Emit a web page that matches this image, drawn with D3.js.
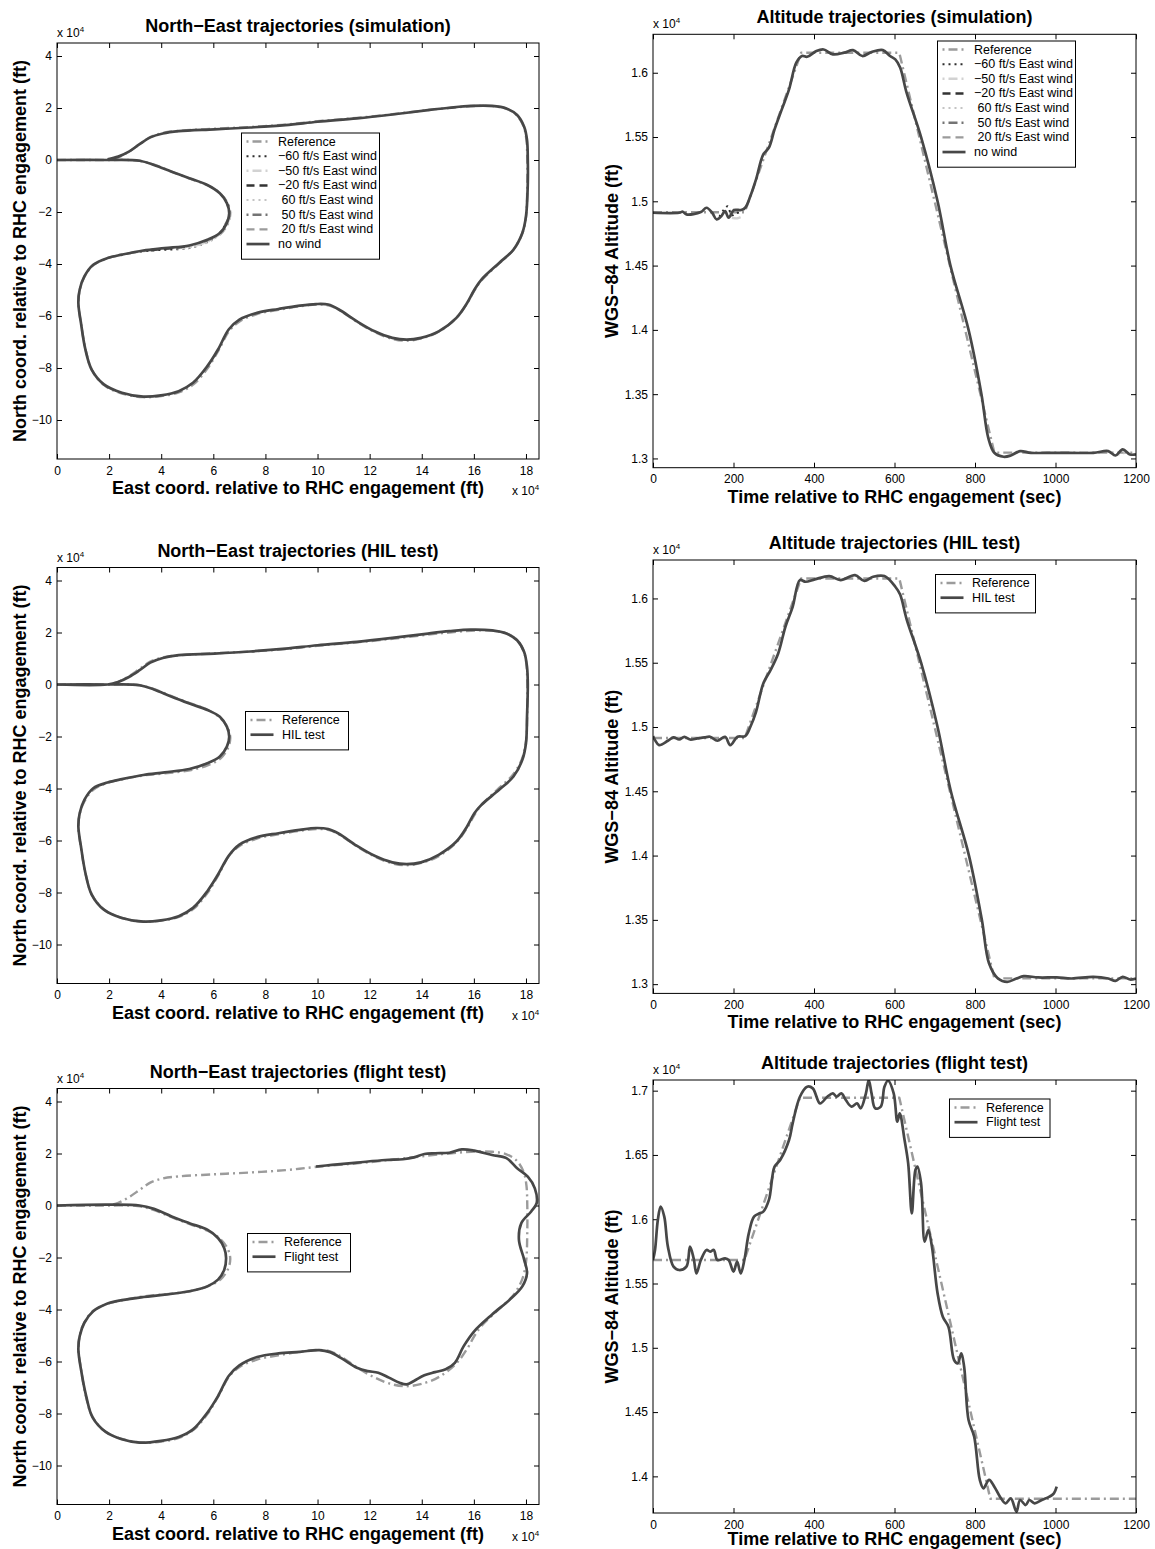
<!DOCTYPE html>
<html>
<head>
<meta charset="utf-8">
<script src="https://cdn.jsdelivr.net/npm/d3@7/dist/d3.min.js"></script>
<style>
  html, body { margin: 0; padding: 0; background: #fff; }
  svg text { font-family: "Liberation Sans", Arial, Helvetica, sans-serif; fill: #000; }
</style>
</head>
<body>
<script>
// ---------- Tick values ----------
const neTicksX = [0, 2, 4, 6, 8, 10, 12, 14, 16, 18];
const neTicksY = [-10, -8, -6, -4, -2, 0, 2, 4];
const altTicksX = [0, 200, 400, 600, 800, 1000, 1200];
const altTicksYLow = [1.3, 1.35, 1.4, 1.45, 1.5, 1.55, 1.6];
const altTicksYHigh = [1.4, 1.45, 1.5, 1.55, 1.6, 1.65, 1.7];

// ---------- North-East paths [east, north] in units of 1e4 ft ----------
const refNE = [[0,0],[1.0,0],[2.0,0],[3.1,-0.02],[3.7,-0.17],[4.4,-0.45],[5.1,-0.72],[5.8,-0.98],[6.28,-1.3],[6.56,-1.68],[6.65,-2.06],[6.56,-2.45],[6.28,-2.84],[5.8,-3.1],[5.1,-3.3],[4.1,-3.42],[3.3,-3.5],[2.5,-3.65],[1.94,-3.78],[1.39,-4.05],[1.05,-4.5],[0.87,-5.0],[0.82,-5.52],[0.92,-6.28],[1.1,-7.3],[1.35,-8.1],[1.82,-8.67],[2.5,-8.98],[3.3,-9.12],[4.0,-9.08],[4.7,-8.93],[5.25,-8.62],[5.8,-7.98],[6.2,-7.32],[6.62,-6.56],[7.05,-6.18],[7.7,-5.92],[8.5,-5.76],[9.3,-5.63],[9.95,-5.56],[10.45,-5.6],[10.85,-5.78],[11.5,-6.22],[12.2,-6.62],[12.87,-6.88],[13.42,-6.95],[14.0,-6.86],[14.65,-6.6],[15.33,-6.07],[15.75,-5.5],[16.03,-5.0],[16.3,-4.62],[16.97,-3.98],[17.5,-3.47],[17.85,-2.85],[18.0,-2.2],[18.05,-1.0],[18.05,0],[18.02,0.75],[17.92,1.26],[17.65,1.72],[17.25,1.97],[16.7,2.07],[15.9,2.07],[15.06,2.0],[14.24,1.92],[12.87,1.76],[11.51,1.62],[10.0,1.49],[8.77,1.36],[7.41,1.27],[6.04,1.2],[4.67,1.12],[4.06,1.04],[3.58,0.88],[3.17,0.6],[2.76,0.32],[2.35,0.1],[2.0,0.01]];

const noWindNE = [[0,0],[1.94,0],[3.17,-0.03],[3.72,-0.19],[4.4,-0.45],[5.08,-0.70],[5.77,-0.96],[6.25,-1.28],[6.52,-1.66],[6.61,-2.05],[6.52,-2.43],[6.25,-2.81],[5.77,-3.07],[5.08,-3.29],[4.13,-3.39],[3.31,-3.48],[2.49,-3.64],[1.94,-3.77],[1.39,-4.03],[1.05,-4.48],[0.87,-4.99],[0.82,-5.50],[0.92,-6.27],[1.09,-7.29],[1.33,-8.06],[1.80,-8.63],[2.49,-8.95],[3.31,-9.10],[3.99,-9.05],[4.67,-8.89],[5.22,-8.57],[5.77,-7.93],[6.18,-7.29],[6.59,-6.52],[7.0,-6.14],[7.68,-5.88],[8.5,-5.73],[9.32,-5.60],[9.94,-5.54],[10.41,-5.56],[10.82,-5.75],[11.5,-6.2],[12.19,-6.59],[12.87,-6.84],[13.42,-6.91],[13.97,-6.84],[14.65,-6.59],[15.33,-6.07],[15.74,-5.50],[16.02,-4.99],[16.29,-4.60],[16.97,-3.96],[17.52,-3.45],[17.86,-2.81],[18.0,-2.17],[18.07,-0.90],[18.07,0],[18.04,0.77],[17.93,1.28],[17.66,1.73],[17.25,1.98],[16.70,2.08],[15.88,2.08],[15.06,2.01],[14.24,1.92],[12.87,1.75],[11.51,1.60],[10.0,1.47],[8.77,1.34],[7.41,1.25],[6.04,1.18],[4.67,1.11],[4.06,1.02],[3.58,0.87],[3.17,0.61],[2.76,0.32],[2.35,0.13],[1.94,0.03]];

// Wind cases: stretches where they leave the no-wind track
const windM60NE = [[3.2,-3.52],[3.8,-3.47],[4.4,-3.44],[5.0,-3.40],[5.5,-3.27],[5.95,-3.06],[6.3,-2.75],[6.5,-2.4]];
const windM50NE = [[4.6,-3.40],[5.3,-3.30],[5.9,-3.08],[6.35,-2.75],[6.6,-2.3],[6.68,-2.0]];
const windM20NE = [[3.6,-3.47],[4.3,-3.40],[5.0,-3.33]];
const windP60NE = [[4.8,-3.42],[5.4,-3.30],[6.0,-3.05],[6.4,-2.6]];
const windP50NE = [[6.45,-2.5],[6.62,-2.1],[6.55,-1.7]];
const windP20NE = [[2.8,-3.58],[3.4,-3.49]];

const hilNE = [[0,0],[1.94,0],[2.35,0.10],[2.76,0.29],[3.17,0.55],[3.58,0.84],[4.06,1.02],[4.67,1.13],[6.04,1.19],[7.41,1.27],[8.77,1.38],[10.0,1.51],[11.51,1.64],[12.87,1.79],[14.24,1.96],[15.06,2.05],[15.88,2.11],[16.70,2.08],[17.25,1.96],[17.66,1.70],[17.93,1.25],[18.04,0.68],[18.07,0],[18.04,-1.24],[18.0,-2.26],[17.86,-2.90],[17.52,-3.54],[16.97,-4.05],[16.29,-4.63],[16.02,-4.95],[15.74,-5.46],[15.33,-6.04],[14.65,-6.55],[13.97,-6.84],[13.42,-6.91],[12.87,-6.84],[12.19,-6.59],[11.5,-6.2],[10.82,-5.74],[10.41,-5.56],[9.94,-5.52],[9.32,-5.59],[8.5,-5.72],[7.68,-5.87],[7.0,-6.16],[6.59,-6.59],[6.18,-7.31],[5.77,-7.95],[5.22,-8.59],[4.67,-8.91],[3.99,-9.07],[3.31,-9.12],[2.49,-8.98],[1.80,-8.66],[1.33,-8.08],[1.09,-7.25],[0.92,-6.23],[0.82,-5.46],[0.87,-4.95],[1.05,-4.44],[1.39,-3.99],[1.94,-3.77],[2.49,-3.64],[3.31,-3.48],[4.13,-3.38],[5.08,-3.25],[5.77,-3.03],[6.25,-2.77],[6.52,-2.39],[6.61,-2.01],[6.52,-1.62],[6.25,-1.24],[5.77,-0.98],[5.08,-0.73],[4.4,-0.47],[3.72,-0.19],[3.17,-0.03],[1.94,0],[0,0]];

const flightNE = [[0,0],[1.94,0.03],[3.17,0],[3.72,-0.13],[4.4,-0.42],[5.08,-0.68],[5.77,-0.93],[6.18,-1.25],[6.42,-1.64],[6.49,-2.02],[6.42,-2.47],[6.18,-2.85],[5.77,-3.11],[5.08,-3.30],[4.13,-3.43],[3.31,-3.52],[2.49,-3.64],[1.94,-3.77],[1.39,-4.07],[1.05,-4.51],[0.87,-5.03],[0.82,-5.54],[0.92,-6.30],[1.12,-7.33],[1.37,-8.16],[1.87,-8.71],[2.49,-8.99],[3.17,-9.12],[3.99,-9.05],[4.67,-8.90],[5.22,-8.61],[5.77,-7.97],[6.18,-7.33],[6.59,-6.56],[7.0,-6.15],[7.68,-5.83],[8.5,-5.69],[9.32,-5.63],[10.07,-5.56],[10.48,-5.64],[10.96,-5.90],[11.51,-6.24],[11.92,-6.37],[12.33,-6.43],[12.74,-6.62],[13.15,-6.82],[13.42,-6.88],[13.70,-6.75],[14.10,-6.53],[14.51,-6.41],[14.92,-6.30],[15.27,-6.05],[15.61,-5.41],[16.02,-4.83],[16.70,-4.19],[17.38,-3.62],[17.86,-3.11],[18.04,-2.60],[17.93,-2.08],[17.73,-1.32],[17.82,-0.68],[18.2,-0.23],[18.41,0.09],[18.34,0.66],[18.07,1.11],[17.66,1.43],[17.25,1.82],[16.70,1.94],[16.02,2.11],[15.54,2.16],[15.06,2.03],[14.51,2.01],[14.10,1.98],[13.70,1.85],[13.28,1.78],[12.60,1.75],[11.51,1.65],[10.55,1.56],[9.94,1.50]];

// ---------- Altitude [time s, altitude 1e4 ft] ----------
const refAltSim = [[0,1.4915],[228,1.4915],[368,1.6155],[612,1.6155],[848,1.3045],[1200,1.3045]];

const noWindAlt = [[0,1.4911],[65,1.4911],[74,1.4919],[83,1.4898],[119,1.4916],[133,1.495],[147,1.4911],[158,1.4859],[170,1.4885],[179,1.4924],[188,1.4872],[201,1.4932],[219,1.4932],[229,1.495],[242,1.5041],[256,1.517],[274,1.5365],[288,1.5417],[302,1.5559],[320,1.5715],[338,1.587],[356,1.6078],[370,1.613],[383,1.6124],[406,1.6169],[424,1.6181],[447,1.6143],[475,1.6156],[497,1.6176],[520,1.613],[543,1.6161],[571,1.6176],[589,1.613],[602,1.6104],[614,1.6040],[630,1.5845],[666,1.5500],[707,1.5000],[739,1.4500],[784,1.4000],[816,1.3500],[833,1.3160],[848,1.3044],[871,1.3013],[889,1.3023],[912,1.3057],[939,1.3044],[1003,1.3044],[1094,1.3044],[1131,1.3057],[1149,1.3023],[1167,1.307],[1185,1.3031],[1200,1.3031]];

const windM60Alt = [[165,1.4880],[176,1.4935],[186,1.4962],[195,1.4890],[206,1.4905],[222,1.4920]];
const windM50Alt = [[196,1.4872],[210,1.4868],[226,1.4890]];
const windP60Alt = [[1140,1.3050],[1160,1.3030],[1180,1.3060]];

const hilAlt = [[0,1.4929],[5,1.4898],[15,1.4859],[37,1.4893],[51,1.4919],[65,1.4903],[78,1.4924],[92,1.4903],[110,1.4911],[128,1.4919],[142,1.4924],[160,1.4893],[179,1.4924],[192,1.4859],[210,1.4924],[229,1.4929],[242,1.5002],[256,1.5118],[274,1.5339],[292,1.5443],[311,1.5572],[329,1.578],[347,1.5935],[365,1.6143],[379,1.613],[402,1.6148],[438,1.6174],[466,1.6143],[502,1.6181],[525,1.6137],[547,1.6169],[575,1.6174],[602,1.6091],[614,1.6030],[630,1.5840],[666,1.5500],[707,1.5000],[740,1.4500],[785,1.4000],[817,1.3500],[835,1.3160],[857,1.3044],[880,1.3018],[903,1.3044],[921,1.3062],[957,1.3052],[1003,1.3052],[1040,1.3044],[1094,1.3057],[1131,1.3044],[1149,1.3026],[1167,1.3057],[1185,1.3036],[1200,1.3044]];

const refAltFlight = [[0,1.5683],[227,1.5683],[365,1.6945],[612,1.6945],[838,1.3826],[1200,1.3826]];

const flightAlt = [[0,1.5683],[5,1.5761],[12,1.5994],[19,1.6098],[28,1.602],[37,1.5787],[51,1.5631],[65,1.5605],[83,1.5631],[92,1.5787],[101,1.5696],[108,1.5579],[119,1.5683],[133,1.5761],[142,1.5748],[151,1.5761],[160,1.5683],[179,1.5696],[188,1.5683],[200,1.5592],[209,1.567],[218,1.5579],[227,1.5683],[238,1.589],[251,1.602],[265,1.6046],[274,1.6059],[288,1.615],[302,1.6409],[316,1.6461],[338,1.6616],[347,1.6746],[365,1.6953],[383,1.7031],[397,1.7018],[415,1.6901],[433,1.6953],[447,1.6979],[456,1.6953],[468,1.6979],[479,1.6927],[493,1.6876],[507,1.6901],[516,1.6863],[529,1.6979],[536,1.7083],[543,1.6979],[552,1.6863],[566,1.6876],[575,1.7031],[584,1.7078],[598,1.6979],[607,1.6759],[613,1.6824],[625,1.6616],[634,1.6435],[643,1.6046],[652,1.6383],[657,1.6409],[666,1.6279],[675,1.5826],[684,1.5916],[693,1.5787],[707,1.5424],[720,1.5242],[734,1.5164],[748,1.4905],[757,1.4879],[766,1.4957],[773,1.4853],[784,1.4438],[798,1.4309],[812,1.3972],[821,1.3907],[835,1.3972],[848,1.392],[862,1.3842],[876,1.379],[889,1.3829],[903,1.3725],[912,1.3816],[926,1.3777],[935,1.3816],[948,1.379],[966,1.3816],[985,1.3842],[996,1.3868],[1003,1.392]];

// ---------- Line styles ----------
const styles = {
  ref:    { color: "#9b9b9b", width: 2.4, dash: "9,4,2,4", key: 13 },
  m60:    { color: "#2e2e2e", width: 2.0, dash: "2,4", key: 0 },
  m50:    { color: "#d2d2d2", width: 2.4, dash: "9,4,2,4", key: 13 },
  m20:    { color: "#333333", width: 2.4, dash: "8,5", key: 0 },
  p60:    { color: "#c4c4c4", width: 2.0, dash: "2,4", key: 0 },
  p50:    { color: "#747474", width: 2.4, dash: "9,4,2,4", key: 13 },
  p20:    { color: "#9b9b9b", width: 2.4, dash: "8,5", key: 0 },
  solid:  { color: "#474747", width: 2.7, dash: null, key: 0 }
};

const FONT = '"Liberation Sans", Arial, Helvetica, sans-serif';
const svg = d3.select("body").append("svg").attr("width", 1155).attr("height", 1549);
let clipId = 0;

function fmtTick(v) {
  return String(+v.toFixed(2)).replace("-", "\u2212");
}

function drawPanel(p) {
  const x = d3.scaleLinear().domain(p.xDomain).range([p.left, p.right]);
  const y = d3.scaleLinear().domain(p.yDomain).range([p.bottom, p.top]);
  const g = svg.append("g");
  const id = "clip" + (clipId++);
  g.append("clipPath").attr("id", id).append("rect")
    .attr("x", p.left).attr("y", p.top).attr("width", p.right - p.left).attr("height", p.bottom - p.top);

  // Axes via d3 axis generators, ticks pointing inward on all four sides
  const tl = 5;
  const axB = d3.axisBottom(x).tickValues(p.xTicks).tickSize(-tl).tickSizeOuter(0).tickFormat(fmtTick).tickPadding(7);
  const axT = d3.axisTop(x).tickValues(p.xTicks).tickSize(-tl).tickSizeOuter(0).tickFormat("");
  const axL = d3.axisLeft(y).tickValues(p.yTicks).tickSize(-tl).tickSizeOuter(0).tickFormat(fmtTick).tickPadding(5);
  const axR = d3.axisRight(y).tickValues(p.yTicks).tickSize(-tl).tickSizeOuter(0).tickFormat("");
  const axes = [
    g.append("g").attr("transform", `translate(0,${p.bottom})`).call(axB),
    g.append("g").attr("transform", `translate(0,${p.top})`).call(axT),
    g.append("g").attr("transform", `translate(${p.left},0)`).call(axL),
    g.append("g").attr("transform", `translate(${p.right},0)`).call(axR)
  ];
  axes.forEach(a => {
    a.select(".domain").remove();
    a.selectAll("line").attr("stroke", "#000").attr("stroke-width", 1);
    a.selectAll("text").attr("font-size", 12).attr("font-family", FONT).attr("fill", "#000");
  });

  // Data lines
  const lineGen = d3.line().x(d => x(d[0])).y(d => y(d[1])).curve(d3.curveCatmullRom.alpha(0.5));
  const lineLin = d3.line().x(d => x(d[0])).y(d => y(d[1]));
  const lg = g.append("g").attr("clip-path", `url(#${id})`);
  p.series.forEach(s => {
    const st = styles[s.style];
    lg.append("path").datum(s.data)
      .attr("d", s.linear ? lineLin : lineGen)
      .attr("fill", "none").attr("stroke", st.color).attr("stroke-width", st.width)
      .attr("stroke-linejoin", "round")
      .attr("stroke-dasharray", st.dash);
  });

  // Frame
  g.append("rect").attr("x", p.left).attr("y", p.top).attr("width", p.right - p.left).attr("height", p.bottom - p.top)
    .attr("fill", "none").attr("stroke", "#000").attr("stroke-width", 1);

  // Exponent notes
  const topNote = g.append("text").attr("x", p.left).attr("y", p.top - 6).attr("font-size", 12);
  topNote.append("tspan").text("x 10");
  topNote.append("tspan").attr("dy", -5).attr("font-size", 8).text("4");
  if (p.xExp) {
    const bn = g.append("text").attr("x", p.right - 27).attr("y", p.bottom + 36).attr("font-size", 12);
    bn.append("tspan").text("x 10");
    bn.append("tspan").attr("dy", -5).attr("font-size", 8).text("4");
  }

  // Title and axis labels
  const cx = (p.left + p.right) / 2, cy = (p.top + p.bottom) / 2;
  g.append("text").attr("x", cx).attr("y", p.top - 11).attr("text-anchor", "middle")
    .attr("font-size", 18).attr("font-weight", "bold").text(p.title);
  g.append("text").attr("x", cx).attr("y", Math.min(p.bottom + 35, 1545)).attr("text-anchor", "middle")
    .attr("font-size", 18).attr("font-weight", "bold").text(p.xLabel);
  g.append("text").attr("transform", `translate(${p.left - p.yLabelOff},${cy}) rotate(-90)`)
    .attr("text-anchor", "middle").attr("dominant-baseline", "central")
    .attr("font-size", 18).attr("font-weight", "bold").text(p.yLabel);

  // Legend
  const L = p.legend;
  const lgd = g.append("g");
  lgd.append("rect").attr("x", L.x).attr("y", L.y).attr("width", L.w).attr("height", 9 + L.items.length * L.step)
    .attr("fill", "#fff").attr("stroke", "#000").attr("stroke-width", 1);
  L.items.forEach((it, i) => {
    const st = styles[it.style];
    const yy = L.y + 8 + L.step * i + 0.5;
    lgd.append("line").attr("x1", L.x + 5).attr("x2", L.x + 28).attr("y1", yy).attr("y2", yy)
      .attr("stroke", st.color).attr("stroke-width", st.width).attr("stroke-dasharray", st.dash)
      .attr("stroke-dashoffset", st.key);
    lgd.append("text").attr("x", L.x + 36.5).attr("y", yy).attr("dominant-baseline", "central")
      .attr("font-size", 12.5).style("white-space", "pre").text(it.label);
  });
}

const neX = "East coord. relative to RHC engagement (ft)";
const neY = "North coord. relative to RHC engagement (ft)";
const altX = "Time relative to RHC engagement (sec)";
const altY = "WGS\u221284 Altitude (ft)";

const windLegend = [
  { label: "Reference", style: "ref" },
  { label: "\u221260 ft/s East wind", style: "m60" },
  { label: "\u221250 ft/s East wind", style: "m50" },
  { label: "\u221220 ft/s East wind", style: "m20" },
  { label: " 60 ft/s East wind", style: "p60" },
  { label: " 50 ft/s East wind", style: "p50" },
  { label: " 20 ft/s East wind", style: "p20" },
  { label: "no wind", style: "solid" }
];

const neBase = { left: 57, right: 539, xDomain: [0, 18.5], yDomain: [-11.5, 4.5], xTicks: neTicksX, yTicks: neTicksY,
  xLabel: neX, yLabel: neY, yLabelOff: 37, xExp: true };
const altBase = { left: 653, right: 1136, xDomain: [0, 1200], xTicks: altTicksX, xLabel: altX, yLabel: altY, yLabelOff: 41, xExp: false };

drawPanel(Object.assign({}, neBase, {
  top: 43, bottom: 459, title: "North\u2212East trajectories (simulation)",
  series: [
    { data: refNE, style: "ref" },
    { data: windM60NE, style: "m60" }, { data: windM50NE, style: "m50" }, { data: windM20NE, style: "m20" },
    { data: windP60NE, style: "p60" }, { data: windP50NE, style: "p50" }, { data: windP20NE, style: "p20" },
    { data: noWindNE, style: "solid" }
  ],
  legend: { x: 241.5, y: 133, w: 138, step: 14.65, items: windLegend }
}));

drawPanel(Object.assign({}, altBase, {
  top: 34.3, bottom: 467.7, yDomain: [1.2928, 1.6299], yTicks: altTicksYLow,
  title: "Altitude trajectories (simulation)",
  series: [
    { data: refAltSim, style: "ref", linear: true },
    { data: windM60Alt, style: "m60" }, { data: windM50Alt, style: "m50" }, { data: windP60Alt, style: "p60" },
    { data: noWindAlt, style: "solid" }
  ],
  legend: { x: 937.5, y: 41, w: 138, step: 14.65, items: windLegend }
}));

drawPanel(Object.assign({}, neBase, {
  top: 567.5, bottom: 983.5, title: "North\u2212East trajectories (HIL test)",
  series: [ { data: refNE, style: "ref" }, { data: hilNE, style: "solid" } ],
  legend: { x: 245.5, y: 711.5, w: 103, step: 14.7, items: [ { label: "Reference", style: "ref" }, { label: "HIL test", style: "solid" } ] }
}));

drawPanel(Object.assign({}, altBase, {
  top: 560, bottom: 993.4, yDomain: [1.2928, 1.6299], yTicks: altTicksYLow,
  title: "Altitude trajectories (HIL test)",
  series: [ { data: refAltSim, style: "ref", linear: true }, { data: hilAlt, style: "solid" } ],
  legend: { x: 935.5, y: 574.5, w: 100, step: 14.7, items: [ { label: "Reference", style: "ref" }, { label: "HIL test", style: "solid" } ] }
}));

drawPanel(Object.assign({}, neBase, {
  top: 1088.5, bottom: 1504.5, title: "North\u2212East trajectories (flight test)",
  series: [ { data: refNE, style: "ref" }, { data: flightNE, style: "solid" } ],
  legend: { x: 247.5, y: 1233.5, w: 103, step: 14.7, items: [ { label: "Reference", style: "ref" }, { label: "Flight test", style: "solid" } ] }
}));

drawPanel(Object.assign({}, altBase, {
  top: 1080, bottom: 1513, yDomain: [1.3715, 1.7083], yTicks: altTicksYHigh,
  title: "Altitude trajectories (flight test)",
  series: [ { data: refAltFlight, style: "ref", linear: true }, { data: flightAlt, style: "solid" } ],
  legend: { x: 949.5, y: 1099, w: 100.5, step: 14.7, items: [ { label: "Reference", style: "ref" }, { label: "Flight test", style: "solid" } ] }
}));
</script>
</body>
</html>
